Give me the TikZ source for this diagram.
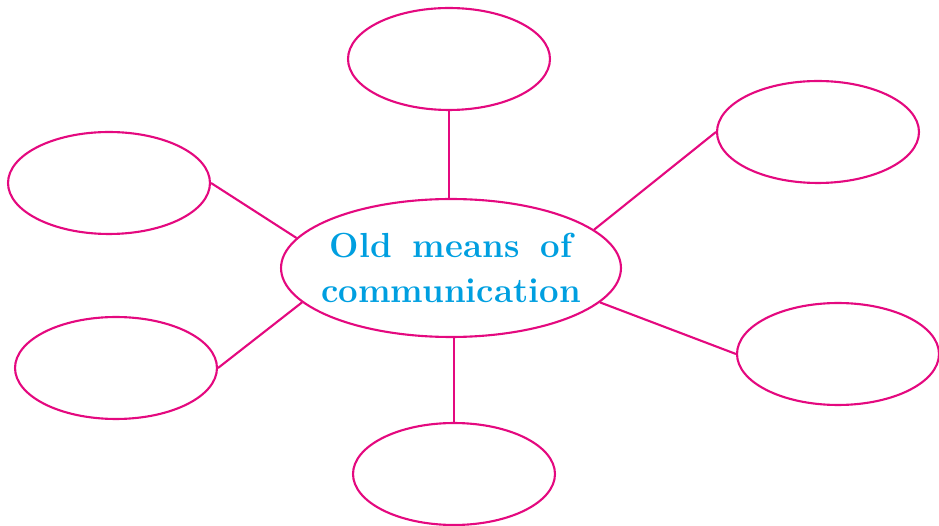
\documentclass[tikz,border=0pt]{standalone}
\usepackage{tikz}
\usetikzlibrary{shapes.geometric, positioning}
\definecolor{rimpink}{HTML}{E4097F}
\definecolor{textblue}{HTML}{009FE0}

\begin{document}
\begin{tikzpicture}[x=0.02cm, y=-0.02cm,
    bubble/.style={ellipse, draw=rimpink, line width=1.2pt, inner sep=0pt,
                   minimum width=4.04cm, minimum height=2.04cm},
    hub/.style={ellipse, draw=rimpink, line width=1.2pt, inner sep=0pt,
                minimum width=6.8cm, minimum height=2.76cm},
    hubtext/.style={font=\fontsize{19.8pt}{26pt}\selectfont\bfseries,
                    text=textblue, align=center},
    spoke/.style={draw=rimpink, line width=1.2pt}]
  \useasboundingbox (0,0) rectangle (939,526);

  % central idea
  \node[hub, label={[hubtext]center:Old\hspace{0.6em}means\hspace{0.6em}of\\communication}]
    (c) at (451,268) {};

  % empty bubbles round it
  \node[bubble] (top)  at (449,59)  {};
  \node[bubble] (ur)   at (818,132) {};
  \node[bubble] (ul)   at (109,183) {};
  \node[bubble] (lr)   at (838,354) {};
  \node[bubble] (ll)   at (116,368) {};
  \node[bubble] (bot)  at (454,474) {};

  % spokes
  \draw[spoke] (top.south |- c.north) -- (top.south);
  \draw[spoke] (c.15)    -- (ur.west);
  \draw[spoke] (c.169)   -- (ul.east);
  \draw[spoke] (c.193)   -- (ll.east);
  \draw[spoke] (c.-13)   -- (lr.west);
  \draw[spoke] (bot.north |- c.south) -- (bot.north);
\end{tikzpicture}
\end{document}
